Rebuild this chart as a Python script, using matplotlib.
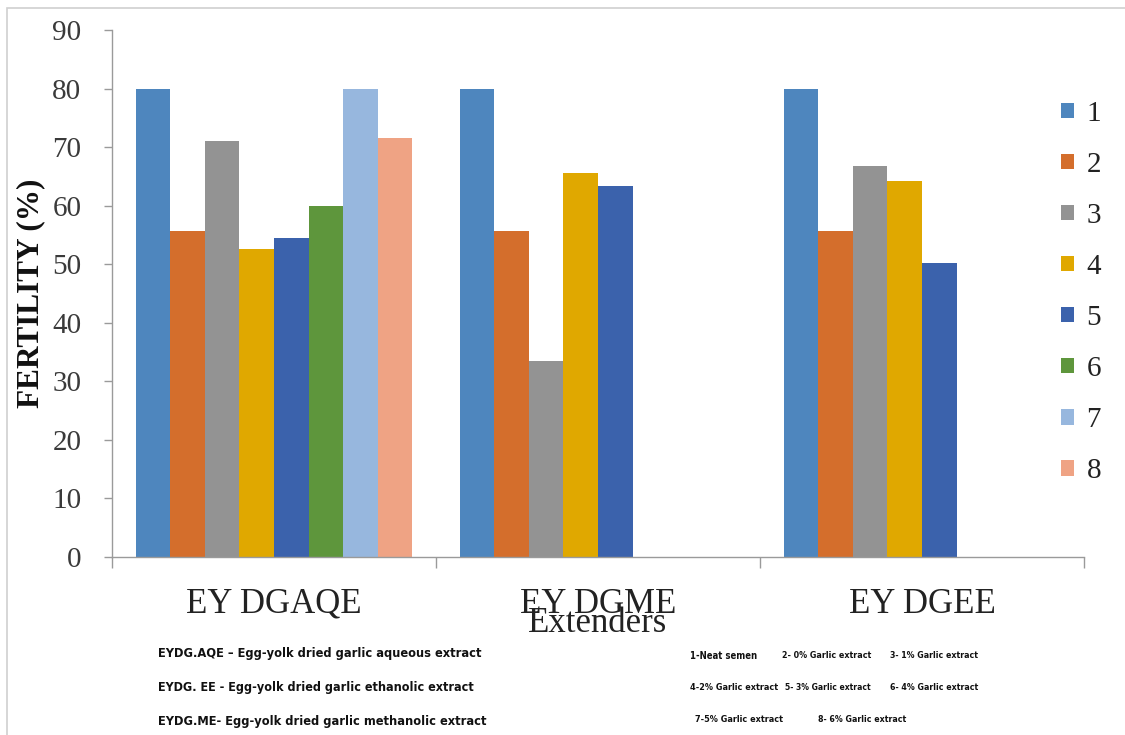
import numpy as np
import matplotlib
matplotlib.use("Agg")
import matplotlib.pyplot as plt
from matplotlib.patches import Patch, Rectangle
from matplotlib.ticker import FixedLocator

# Extender groups and fertility (%) for each treatment
categories = ["EY DGAQE", "EY DGME", "EY DGEE"]
series_labels = ["1", "2", "3", "4", "5", "6", "7", "8"]
fert_1 = [80.0, 80.0, 80.0]
fert_2 = [55.6, 55.6, 55.6]
fert_3 = [71.1, 33.4, 66.8]
fert_4 = [52.6, 65.6, 64.2]
fert_5 = [54.5, 63.4, 50.2]
fert_6 = [60.0, np.nan, np.nan]
fert_7 = [80.0, np.nan, np.nan]
fert_8 = [71.6, np.nan, np.nan]
yticks = [0, 10, 20, 30, 40, 50, 60, 70, 80, 90]

series = [fert_1, fert_2, fert_3, fert_4, fert_5, fert_6, fert_7, fert_8]
colors = ["#4E86BE", "#D46E2C", "#939393", "#E0A800",
          "#3B62AC", "#5E963C", "#97B7DE", "#EFA384"]

serif = ["Liberation Serif", "DejaVu Serif"]
narrow = ["DejaVu Sans"]

W, H = 1125, 735
fig = plt.figure(figsize=(W / 100, H / 100), dpi=100)
fig.patch.set_facecolor("white")

# thin frame around the chart
fig.add_artist(Rectangle((7 / W, -0.05), 1.2, 1 - 8 / H + 0.05,
                         transform=fig.transFigure, fill=False,
                         edgecolor="#D0D0D0", linewidth=1.2))

ax = fig.add_axes([112 / W, 1 - 557 / H, 972 / W, 527 / H])

x = np.arange(len(categories))
width = 0.1065
for i, (vals, col) in enumerate(zip(series, colors)):
    ax.bar(x + (i - 3.5) * width, vals, width, color=col,
           label=series_labels[i], linewidth=0)

ax.set_xlim(-0.5, 2.5)
ax.set_ylim(0, 90)
ax.set_yticks(yticks)
ax.set_yticklabels([str(t) for t in yticks], fontfamily=serif,
                   fontsize=21, color="#3A3A3A")

ax.set_xticks(x)
ax.set_xticklabels(categories, fontfamily=serif, fontsize=25, color="#222222")
ax.xaxis.set_minor_locator(FixedLocator([-0.5, 0.5, 1.5, 2.5]))
ax.tick_params(axis="x", which="major", length=0, pad=22)
ax.tick_params(axis="x", which="minor", length=8, width=1.0,
               color="#9A9A9A", direction="out")
ax.tick_params(axis="y", length=6, width=1.0, color="#9A9A9A",
               direction="out", pad=16)

for s in ["top", "right"]:
    ax.spines[s].set_visible(False)
for s in ["left", "bottom"]:
    ax.spines[s].set_color("#9A9A9A")
    ax.spines[s].set_linewidth(1.0)

ax.set_ylabel("FERTILITY (%)", fontfamily=serif, fontsize=22.5,
              fontweight="bold", color="#111111", labelpad=5)

fig.text(598 / W, 1 - 624 / H, "Extenders", fontfamily=serif,
         fontsize=25, color="#222222", ha="center", va="center")

handles = [Patch(facecolor=c, edgecolor="none") for c in colors]
leg = fig.legend(handles, series_labels, loc="upper left",
                 bbox_to_anchor=(1049 / W, 1 - 89 / H),
                 frameon=False, prop={"family": serif, "size": 21},
                 handlelength=0.44, handleheight=0.44, handletextpad=0.45,
                 labelspacing=0.86, borderaxespad=0)
for t in leg.get_texts():
    t.set_color("#222222")

# abbreviation notes: (left px, centre px, right px, text)
notes = [
    (158, 654, 480, "EYDG.AQE \u2013 Egg-yolk dried garlic aqueous extract"),
    (158, 688, 470, "EYDG. EE - Egg-yolk dried garlic ethanolic extract"),
    (158, 721, 482, "EYDG.ME- Egg-yolk dried garlic methanolic extract"),
    (690, 656, 757, "1-Neat semen"),
    (782, 656, 871, "2- 0% Garlic extract"),
    (890, 656, 977, "3- 1% Garlic extract"),
    (690, 688, 777, "4-2% Garlic extract"),
    (785, 688, 870, "5- 3% Garlic extract"),
    (890, 688, 977, "6- 4% Garlic extract"),
    (695, 720, 782, "7-5% Garlic extract"),
    (818, 720, 905, "8- 6% Garlic extract"),
]
renderer = fig.canvas.get_renderer()
for x0, yc, x1, s in notes:
    t = fig.text(x0 / W, 1 - yc / H, s, fontfamily=narrow,
                 fontstretch="condensed", fontsize=10, fontweight="bold",
                 color="#111111", ha="left", va="center")
    w = t.get_window_extent(renderer).width
    t.set_fontsize(10 * (x1 - x0) / w)

fig.savefig("out.png", dpi=100, facecolor="white")
